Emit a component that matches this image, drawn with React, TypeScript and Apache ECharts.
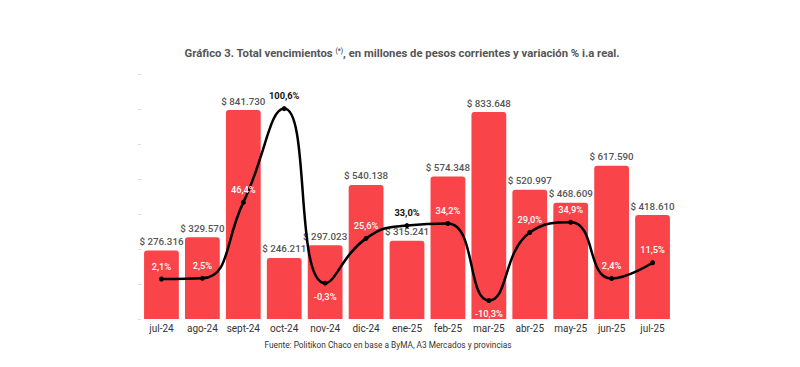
import React, { useEffect, useRef } from "react";
import * as echarts from "echarts";

const categories = ["jul-24", "ago-24", "sept-24", "oct-24", "nov-24", "dic-24", "ene-25", "feb-25", "mar-25", "abr-25", "may-25", "jun-25", "jul-25"];
const vencimientos = [276316, 329570, 841730, 246211, 297023, 540138, 315241, 574348, 833648, 520997, 468609, 617590, 418610];
const variacion = [2.1, 2.5, 46.4, 100.6, -0.3, 25.6, 33.0, 34.2, -10.3, 29.0, 34.9, 2.4, 11.5];
const darkLabelIdx = [3, 6];
const belowLabelIdx = [4, 8];

const fmtMoney = (v: number) => "$ " + String(Math.round(v)).replace(/\B(?=(\d{3})+(?!\d))/g, ".");
const fmtPct = (v: number) => v.toFixed(1).replace(".", ",") + "%";

export default function App() {
  const ref = useRef<HTMLDivElement>(null);
  useEffect(() => {
    if (!ref.current) return;
    const chart = echarts.init(ref.current, null, { renderer: "svg" });
    const font = "Roboto";
    chart.setOption({
      animation: false,
      backgroundColor: "#ffffff",
      textStyle: { fontFamily: font },
      title: {
        text: "Gráfico 3. Total vencimientos {sup|(*)}, en millones de pesos corrientes y variación % i.a real.",
        left: 397,
        textAlign: "center",
        top: 42,
        textStyle: {
          fontFamily: font,
          fontSize: 11.3,
          fontWeight: "bold",
          color: "#555555",
          rich: {
            sup: { fontSize: 6.5, fontWeight: "bold", color: "#555555", verticalAlign: "top", padding: [0, 0, 6, 0] },
          },
        },
      },
      graphic: [
        {
          type: "text",
          x: 388,
          y: 345,
          style: {
            text: "Fuente: Politikon Chaco en base a ByMA, A3 Mercados y provincias",
            fontFamily: font,
            fontSize: 8.3,
            fill: "#333333",
            align: "center",
            verticalAlign: "middle",
          },
        },
      ],
      grid: { left: 141, right: 127, top: 74, bottom: 48 },
      xAxis: {
        type: "category",
        data: categories,
        axisLine: { show: false },
        axisTick: { show: false },
        axisLabel: { color: "#333333", fontSize: 10, fontFamily: font, margin: 4, interval: 0 },
      },
      yAxis: [
        {
          type: "value",
          min: 0,
          max: 987000,
          interval: 141000,
          axisLine: { show: false },
          axisTick: { show: true, length: 3, lineStyle: { color: "#dddddd" } },
          axisLabel: { show: false },
          splitLine: { show: false },
        },
        {
          type: "value",
          min: -21,
          max: 120.6,
          axisLine: { show: false },
          axisTick: { show: false },
          axisLabel: { show: false },
          splitLine: { show: false },
        },
      ],
      series: [
        {
          type: "bar",
          data: vencimientos,
          barWidth: "85%",
          itemStyle: { color: "#F94449", borderRadius: [3, 3, 0, 0] },
          label: {
            show: true,
            position: "top",
            distance: 4,
            formatter: (p: any) => fmtMoney(p.value),
            color: "#555555",
            fontSize: 9.8,
            fontWeight: 500,
            fontFamily: font,
          },
        },
        {
          type: "line",
          yAxisIndex: 1,
          smooth: 0.5,
          data: variacion.map((v, i) => ({
            value: v,
            label: {
              position: belowLabelIdx.includes(i) ? "bottom" : "top",
              color: darkLabelIdx.includes(i) ? "#111111" : "#ffffff",
              fontWeight: darkLabelIdx.includes(i) ? "bold" : 500,
            },
          })),
          lineStyle: { color: "#000000", width: 2.5 },
          symbol: "circle",
          symbolSize: 5,
          itemStyle: { color: "#000000" },
          z: 5,
          label: {
            show: true,
            distance: 6,
            formatter: (p: any) => fmtPct(p.value),
            fontSize: 9.3,
            fontFamily: font,
          },
        },
      ],
    });
    return () => chart.dispose();
  }, []);
  return <div ref={ref} style={{ position: "absolute", left: 0, top: 0, width: 800, height: 367 }} />;
}
